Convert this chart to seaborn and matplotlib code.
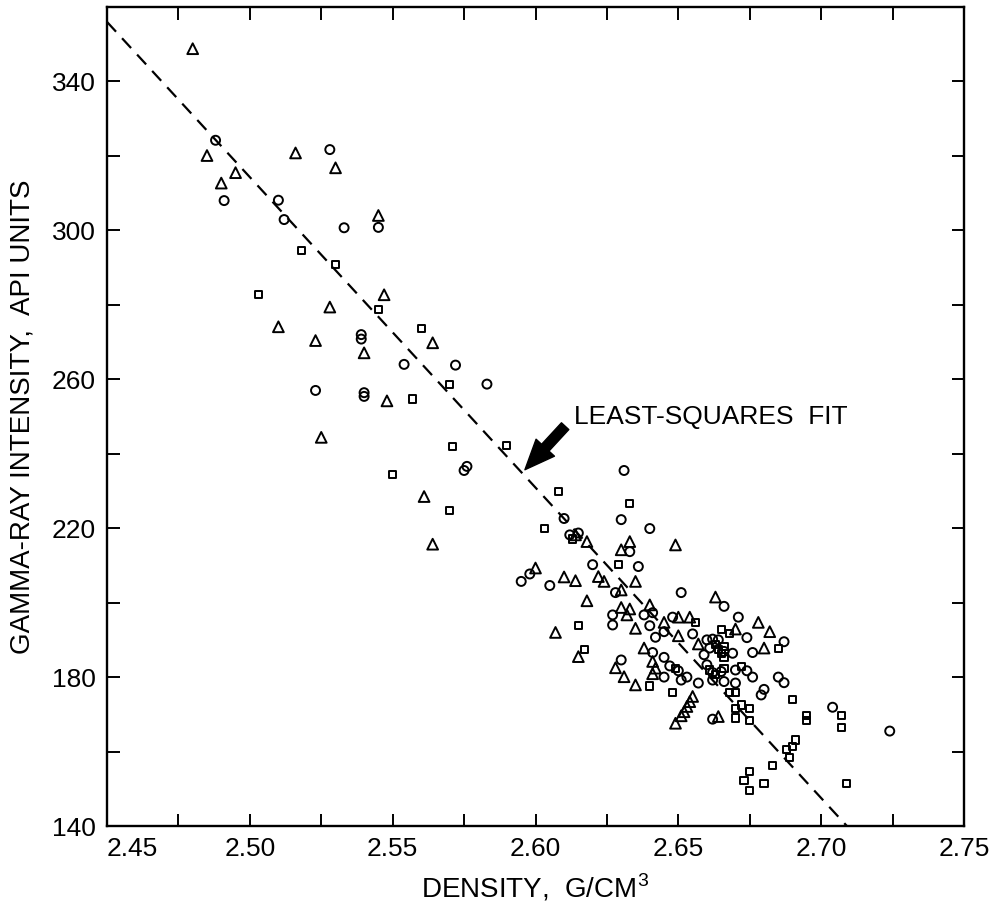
import matplotlib
matplotlib.use("Agg")
import matplotlib.pyplot as plt
import numpy as np
import pandas as pd
import seaborn as sns
from matplotlib.ticker import MultipleLocator

# ---------------- data ----------------
tri_density = [2.480, 2.485, 2.490, 2.495, 2.516, 2.530, 2.545, 2.547, 2.528, 2.510,
               2.523, 2.564, 2.540, 2.548, 2.525, 2.561, 2.564,
               2.649, 2.614, 2.618, 2.633, 2.630, 2.600, 2.610, 2.614, 2.622, 2.624,
               2.635, 2.630, 2.618, 2.630, 2.633, 2.632, 2.635, 2.607, 2.615, 2.628,
               2.631, 2.635, 2.640, 2.645, 2.650, 2.654, 2.663, 2.678, 2.682, 2.650,
               2.670, 2.680, 2.638, 2.657, 2.641, 2.642, 2.641, 2.655, 2.654, 2.653,
               2.652, 2.651, 2.649, 2.664]
tri_gamma = [348.8, 320.1, 312.7, 315.5, 320.8, 316.8, 304.0, 282.7, 279.4, 274.1,
             270.4, 269.8, 267.1, 254.2, 244.4, 228.5, 215.7,
             215.5, 218.2, 216.4, 216.4, 214.2, 209.3, 206.9, 205.9, 207.0, 205.7,
             205.7, 203.4, 200.5, 198.7, 198.3, 196.7, 193.1, 192.0, 185.5, 182.5,
             180.1, 177.9, 199.4, 194.7, 196.1, 196.1, 201.5, 194.7, 192.2, 191.1,
             192.9, 187.8, 187.8, 188.9, 184.2, 182.4, 180.9, 174.8, 173.4, 172.1,
             170.7, 169.6, 167.6, 169.4]

circ_density = [2.488, 2.491, 2.510, 2.512, 2.528, 2.533, 2.545, 2.539, 2.539, 2.554,
                2.572, 2.583, 2.523, 2.540, 2.540, 2.576, 2.575,
                2.631, 2.630, 2.640, 2.610, 2.612, 2.615, 2.633, 2.620, 2.636, 2.598,
                2.595, 2.605, 2.628, 2.651, 2.627, 2.627, 2.630, 2.638, 2.641, 2.648,
                2.666, 2.671, 2.640, 2.645, 2.655, 2.674, 2.687, 2.642, 2.660, 2.662,
                2.661, 2.659, 2.664, 2.666, 2.669, 2.676, 2.641, 2.645, 2.647, 2.650,
                2.660, 2.662, 2.665, 2.670, 2.674, 2.676, 2.685, 2.687, 2.645, 2.651,
                2.653, 2.657, 2.662, 2.666, 2.670, 2.680, 2.679, 2.662, 2.704, 2.724]
circ_gamma = [324.2, 308.0, 308.1, 302.9, 321.7, 300.7, 300.8, 272.0, 270.8, 264.0,
              263.8, 258.7, 257.0, 255.4, 256.4, 236.6, 235.5,
              235.5, 222.3, 219.9, 222.6, 218.2, 218.7, 213.7, 210.2, 209.7, 207.7,
              205.7, 204.6, 202.7, 202.7, 196.7, 194.0, 184.6, 196.7, 197.3, 196.1,
              199.0, 196.1, 193.8, 192.2, 191.6, 190.6, 189.5, 190.7, 190.0, 190.2,
              187.8, 186.0, 190.0, 186.9, 186.4, 186.6, 186.6, 185.3, 183.0, 181.7,
              183.3, 181.2, 181.5, 181.9, 181.7, 180.0, 180.0, 178.5, 180.0, 179.2,
              180.0, 178.4, 179.2, 178.8, 178.4, 176.7, 175.2, 168.7, 171.9, 165.5]

sq_density = [2.518, 2.530, 2.503, 2.545, 2.560, 2.570, 2.557, 2.571, 2.590, 2.550, 2.570,
              2.633, 2.608, 2.603, 2.613, 2.629, 2.615, 2.617, 2.640, 2.656, 2.665,
              2.668, 2.685, 2.666, 2.664, 2.665, 2.663, 2.666, 2.649, 2.661, 2.663,
              2.666, 2.672, 2.648, 2.668, 2.670, 2.690, 2.670, 2.672, 2.675, 2.670,
              2.675, 2.707, 2.707, 2.695, 2.695, 2.691, 2.690, 2.688, 2.689, 2.683,
              2.675, 2.673, 2.675, 2.680, 2.709]
sq_gamma = [294.6, 290.8, 282.7, 278.7, 273.6, 258.5, 254.7, 241.9, 242.2, 234.3, 224.8,
            226.7, 229.9, 219.8, 217.1, 210.3, 193.8, 187.5, 177.6, 194.7, 192.7,
            191.8, 187.8, 188.2, 187.3, 186.4, 188.7, 185.4, 182.4, 181.9, 180.6,
            182.4, 182.8, 175.8, 175.8, 175.8, 173.9, 171.6, 172.5, 171.6, 169.0,
            168.3, 169.6, 166.4, 169.6, 168.3, 163.1, 161.3, 160.6, 158.5, 156.2,
            154.6, 152.1, 149.5, 151.5, 151.5]

# least-squares fit line end points
fit_density = [2.45, 2.709]
fit_gamma = [356.0, 140.0]

x_ticks = [2.45, 2.50, 2.55, 2.60, 2.65, 2.70, 2.75]
x_tick_labels = ["2.45", "2.50", "2.55", "2.60", "2.65", "2.70", "2.75"]
y_ticks = [140, 180, 220, 260, 300, 340]
y_tick_labels = ["140", "180", "220", "260", "300", "340"]

annot_text = "LEAST-SQUARES  FIT"
annot_xy = (2.5963, 235.7)
annot_text_xy = (2.6135, 250.0)

# ---------------- plotting ----------------
sns.set_style("ticks")
plt.rcParams["font.family"] = ["Liberation Sans", "DejaVu Sans"]
plt.rcParams["mathtext.fontset"] = "custom"
plt.rcParams["mathtext.rm"] = "Liberation Sans"
for key in ["text.color", "axes.labelcolor", "xtick.color", "ytick.color"]:
    plt.rcParams[key] = "black"

df = pd.concat([
    pd.DataFrame({"density": tri_density, "gamma": tri_gamma, "kind": "triangle"}),
    pd.DataFrame({"density": circ_density, "gamma": circ_gamma, "kind": "circle"}),
    pd.DataFrame({"density": sq_density, "gamma": sq_gamma, "kind": "square"}),
], ignore_index=True)

fig = plt.figure(figsize=(10.01, 9.13), dpi=100)
ax = fig.add_axes([107 / 1001, 87 / 913, 857 / 1001, 819 / 913])

marker_spec = {"triangle": ("^", 60), "circle": ("o", 42), "square": ("s", 26)}
for kind, (mk, size) in marker_spec.items():
    sns.scatterplot(data=df[df["kind"] == kind], x="density", y="gamma",
                    marker=mk, s=size, facecolor="none", edgecolor="black",
                    linewidth=1.4, ax=ax, legend=False, zorder=3)

ax.plot(fit_density, fit_gamma, color="black", lw=1.6, dashes=(6, 4), zorder=2)

ax.set_xlim(2.45, 2.75)
ax.set_ylim(140, 360)
ax.set_xticks(x_ticks, x_tick_labels)
ax.set_yticks(y_ticks, y_tick_labels)
ax.xaxis.set_minor_locator(MultipleLocator(0.025))
ax.yaxis.set_minor_locator(MultipleLocator(20))
ax.tick_params(which="both", direction="in", length=9, width=1.4,
               top=True, right=True, colors="black")
ax.tick_params(which="major", labelsize=19, pad=8, labelcolor="black")
for sp in ax.spines.values():
    sp.set_linewidth(1.7)
    sp.set_color("black")
    sp.set_visible(True)

# first x tick label shifted so it doesn't collide with "140"
ax.get_xticklabels()[0].set_horizontalalignment("left")

ax.set_xlabel("DENSITY,  G/CM$^{\\mathrm{3}}$", fontsize=20, labelpad=8, color="black")
ax.set_ylabel("GAMMA-RAY INTENSITY,  API UNITS", fontsize=20, labelpad=12, color="black")

ax.annotate(annot_text, xy=annot_xy, xytext=annot_text_xy, fontsize=19,
            ha="left", va="center", color="black",
            arrowprops=dict(arrowstyle="simple,head_length=0.9,head_width=0.75,tail_width=0.3",
                            color="black", mutation_scale=24, relpos=(0.0, 0.5),
                            shrinkA=6, shrinkB=0))

fig.savefig("out.png", dpi=100)
